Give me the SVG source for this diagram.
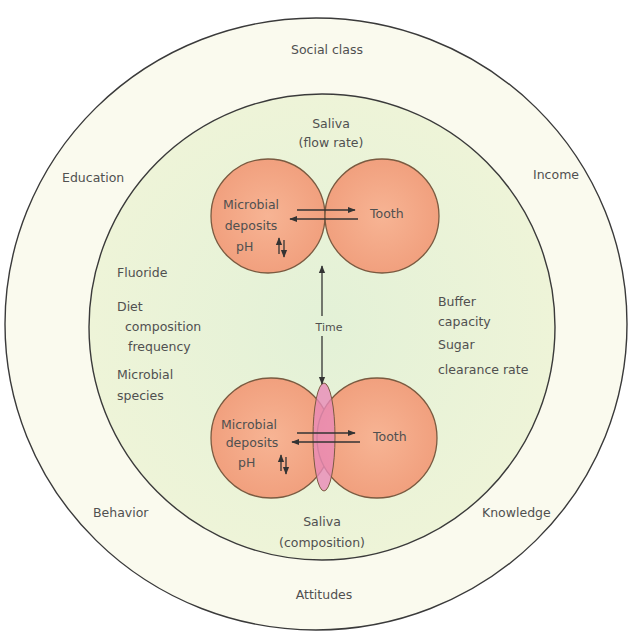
<svg xmlns="http://www.w3.org/2000/svg" width="630" height="632" viewBox="0 0 630 632">
<defs>
<marker id="ah" viewBox="0 0 10 10" refX="9" refY="5" markerWidth="6" markerHeight="6" orient="auto-start-reverse"><path d="M0,1 L10,5 L0,9 z" fill="#333"/></marker>
<radialGradient id="ing" cx="0.5" cy="0.5" r="0.5"><stop offset="0" stop-color="#e3f1d7"/><stop offset="1" stop-color="#eef4d8"/></radialGradient>
<radialGradient id="sal" cx="0.5" cy="0.5" r="0.5"><stop offset="0" stop-color="#f7b494"/><stop offset="1" stop-color="#f1a07e"/></radialGradient>
</defs>
<style>
text{font-family:"DejaVu Sans","Liberation Sans",sans-serif;font-size:12.5px;fill:#505050}
.c{text-anchor:middle}
.ring{stroke:#3a3a3a;stroke-width:1.4;fill:none}
.node{fill:url(#sal);stroke:#7a5a40;stroke-width:1.3}
.ln{stroke:#333;stroke-width:1.3;fill:none}
</style>
<rect width="630" height="632" fill="#ffffff"/>
<g id="outer">
<ellipse cx="316" cy="324" rx="311" ry="306" fill="#fafaee"/>
<ellipse cx="316" cy="324" rx="311" ry="306" class="ring"/>
<text class="c" x="327" y="54">Social class</text>
<text x="62" y="182">Education</text>
<text x="533" y="179">Income</text>
<text x="93" y="517">Behavior</text>
<text x="482" y="517">Knowledge</text>
<text class="c" x="324" y="599">Attitudes</text>
</g>
<g id="inner">
<circle cx="322" cy="327" r="233" fill="url(#ing)"/>
<circle cx="322" cy="327" r="233" class="ring" stroke-width="1.2"/>
<text class="c" x="331" y="128">Saliva</text>
<text class="c" x="331" y="147">(flow rate)</text>
<text x="117" y="277">Fluoride</text>
<text x="117" y="311">Diet</text>
<text x="125" y="331">composition</text>
<text x="128" y="351">frequency</text>
<text x="117" y="379">Microbial</text>
<text x="117" y="400">species</text>
<text x="438" y="306">Buffer</text>
<text x="438" y="326">capacity</text>
<text x="438" y="349">Sugar</text>
<text x="438" y="374">clearance rate</text>
<text class="c" x="322" y="526">Saliva</text>
<text class="c" x="322" y="547">(composition)</text>
</g>
<g id="top-pair">
<circle cx="268" cy="216" r="57" class="node"/>
<circle cx="382" cy="216" r="57" class="node"/>
<text class="c" x="251" y="209">Microbial</text>
<text class="c" x="251" y="230">deposits</text>
<text x="236" y="251">pH</text>
<text x="370" y="218">Tooth</text>
</g>
<g id="bottom-pair">
<circle cx="271" cy="438" r="60" class="node"/>
<circle cx="377" cy="438" r="60" class="node"/>
<ellipse cx="324" cy="437" rx="11" ry="54" fill="#e98ab8" fill-opacity="0.8" stroke="#7a5a40" stroke-width="1"/>
<text class="c" x="249" y="429">Microbial</text>
<text class="c" x="252" y="447">deposits</text>
<text x="238" y="467">pH</text>
<text x="373" y="441">Tooth</text>
</g>
<g id="connectors">
<line class="ln" x1="297" y1="210" x2="355" y2="210" marker-end="url(#ah)"/>
<line class="ln" x1="358" y1="219" x2="290" y2="219" marker-end="url(#ah)"/>
<line class="ln" x1="279" y1="254" x2="279" y2="238" marker-end="url(#ah)"/>
<line class="ln" x1="284" y1="240" x2="284" y2="257" marker-end="url(#ah)"/>
<line class="ln" x1="322" y1="316" x2="322" y2="266" marker-end="url(#ah)"/>
<line class="ln" x1="322" y1="336" x2="322" y2="384" marker-end="url(#ah)"/>
<text class="c" x="329" y="331" style="font-size:11px">Time</text>
<line class="ln" x1="297" y1="433" x2="355" y2="433" marker-end="url(#ah)"/>
<line class="ln" x1="360" y1="442" x2="292" y2="442" marker-end="url(#ah)"/>
<line class="ln" x1="281" y1="471" x2="281" y2="455" marker-end="url(#ah)"/>
<line class="ln" x1="286" y1="457" x2="286" y2="474" marker-end="url(#ah)"/>
</g>
</svg>
